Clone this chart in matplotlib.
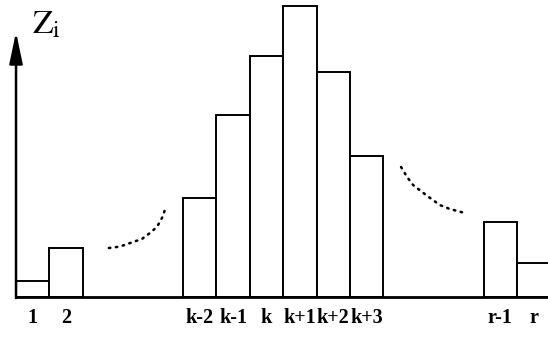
import numpy as np
import matplotlib.pyplot as plt

# bar slots (in units of one bar width) and heights
labels = ['1', '2', 'k-2', 'k-1', 'k', 'k+1', 'k+2', 'k+3', 'r-1', 'r']
slots = [0, 1, 5, 6, 7, 8, 9, 10, 14, 15]
heights = [16, 49, 99, 182, 241, 291, 225, 141, 75, 34]

# the two dotted "and so on" arcs
left_arc_x = [2.78, 3.02, 3.26, 3.50, 3.77, 4.01, 4.22, 4.37, 4.49]
left_arc_y = [49, 50, 52, 55, 58, 64, 70, 79, 90]
right_arc_x = [11.53, 11.71, 11.89, 12.16, 12.40, 12.69, 12.99, 13.44]
right_arc_y = [130, 120, 112, 105, 99, 92, 88, 84]

plt.rcParams['font.family'] = ['Liberation Serif', 'DejaVu Serif']
plt.rcParams['mathtext.fontset'] = 'stix'

fig = plt.figure(figsize=(5.48, 3.38), dpi=100)
ax = fig.add_axes([0, 0, 1, 1])
ax.set_xlim(-0.48, 15.93)
ax.set_ylim(-41, 297)

# the bars
ax.bar(slots, heights, width=1.0, align='edge', facecolor='white',
       edgecolor='black', linewidth=1.4)

# dotted arcs
ax.plot(left_arc_x, left_arc_y, color='black', linewidth=1.8,
        linestyle=(0, (0.6, 2.2)), dash_capstyle='round')
ax.plot(right_arc_x, right_arc_y, color='black', linewidth=1.8,
        linestyle=(0, (0.6, 2.2)), dash_capstyle='round')

# axes: baseline and the upward arrow
for side in ['top', 'right', 'left']:
    ax.spines[side].set_visible(False)
ax.spines['bottom'].set_position(('data', 0))
ax.spines['bottom'].set_bounds(0, 16)
ax.spines['bottom'].set_linewidth(2.0)
ax.set_xticks([])
ax.set_yticks([])

ax.annotate('', xy=(0, 265), xytext=(0, -1),
            arrowprops=dict(arrowstyle='-|>,head_length=0.95,head_width=0.2',
                            color='black', linewidth=1.8, mutation_scale=20,
                            shrinkA=0, shrinkB=0))
ax.text(0.47, 272, r'$\mathrm{Z_i}$', fontsize=24, ha='left', va='center')

# labels under the bars
for s, lab in zip(slots, labels):
    ax.text(s + 0.5, -21, lab, fontsize=14.5, fontweight='bold',
            ha='center', va='center')

fig.savefig('out.png', dpi=100)
